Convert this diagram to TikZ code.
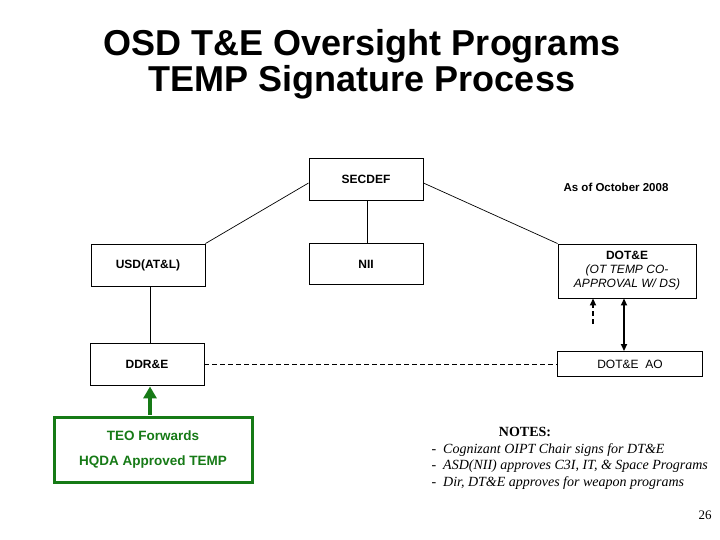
\documentclass[tikz,border=0pt]{standalone}
\usepackage{fontspec}
\setmainfont{Liberation Sans}
\newfontfamily\timesf{Liberation Serif}
\usetikzlibrary{arrows.meta,calc}
\definecolor{tgreen}{RGB}{22,122,22}
\begin{document}
\begin{tikzpicture}[x=1pt,y=-1pt,
  box/.style={draw=black,line width=0.9pt,fill=white,inner sep=0pt,align=center,font=\fontsize{12}{14}\selectfont\bfseries},
  conn/.style={draw=black,line width=0.7pt},
  dashconn/.style={draw=black,line width=1pt,dash pattern=on 5pt off 3pt},
  arr/.style={draw=black,line width=1.8pt,{Triangle[width=6pt,length=7pt]}-{Triangle[width=6pt,length=7pt]}},
  darr/.style={draw=black,line width=1.8pt,dash pattern=on 5pt off 3pt,-{Triangle[width=6pt,length=7pt]}},
  note/.style={anchor=west,font=\timesf\itshape\fontsize{14}{16}\selectfont}
]
\useasboundingbox (0,0) rectangle (720,540);
\fill[white] (0,0) rectangle (720,540);

\node[font=\fontsize{36}{36}\selectfont\bfseries,align=center] (title) at (362,64)
  {OSD T\&E Oversight Programs\\TEMP Signature Process};

\node[box,minimum width=114pt,minimum height=42pt] (sec) at (366,179) {SECDEF};
\node[box,minimum width=114pt,minimum height=42pt] (usd) at (148,265) {USD(AT\&L)};
\node[box,minimum width=114pt,minimum height=41pt] (nii) at (366,264) {NII};
\node[box,minimum width=138pt,minimum height=54pt] (dote) at (627,271)
  {DOT\&E\\{\mdseries\itshape (OT TEMP CO-}\\{\mdseries\itshape APPROVAL W/ DS)}};
\node[box,minimum width=114pt,minimum height=42pt] (ddr) at (147,364) {DDR\&E};
\node[box,minimum width=145pt,minimum height=25pt,font=\fontsize{12}{14}\selectfont] (ao) at (630,364) {DOT\&E\ \ AO};
\node[draw=tgreen,line width=3pt,minimum width=198pt,minimum height=65pt,align=center,
      text=tgreen,font=\fontsize{13.5}{25}\selectfont\bfseries,inner sep=0pt] (teo) at (153,450)
  {TEO Forwards\\HQDA Approved TEMP};

\node[font=\fontsize{11.5}{14}\selectfont\bfseries] (asof) at (616,187) {As of October 2008};

\draw[conn] (usd.north east) -- ($(sec.west)+(0,4)$);
\draw[conn] ($(sec.east)+(0,4)$) -- (dote.north west);
\draw[conn] ($(sec.south)+(1,0)$) -- ($(nii.north)+(1,0)$);
\draw[conn] ($(usd.south)+(2,0)$) -- ($(ddr.north)+(3,0)$);
\draw[dashconn] (ddr.east) -- (ddr.east -| ao.west);
\coordinate (atop) at ($(dote.south)+(-3,0)$);
\coordinate (abot) at (atop |- ao.north);
\draw[arr] (abot) -- (atop);
\coordinate (dstart) at (593,324);
\draw[darr] (dstart) -- (dstart |- dote.south);
\coordinate (gbot) at (teo.north -| 150,0);
\coordinate (gtop) at (ddr.south -| 150,0);
\draw[draw=tgreen,line width=4pt,-{Triangle[width=13pt,length=12pt]}] ($(gbot)+(0,-1.5)$) -- ($(gtop)+(0,1)$);

\node[font=\timesf\bfseries\fontsize{14}{16}\selectfont] (notes) at (525,432) {NOTES:};
\node[note] (n1) at (428,450) {-\ \ Cognizant OIPT Chair signs for DT\&E};
\node[note] (n2) at (428,466) {-\ \ ASD(NII) approves C3I, IT, \& Space Programs};
\node[note] (n3) at (428,483) {-\ \ Dir, DT\&E approves for weapon programs};
\node[font=\timesf\fontsize{13}{15}\selectfont] (pg) at (705,515) {26};
\end{tikzpicture}
\end{document}
